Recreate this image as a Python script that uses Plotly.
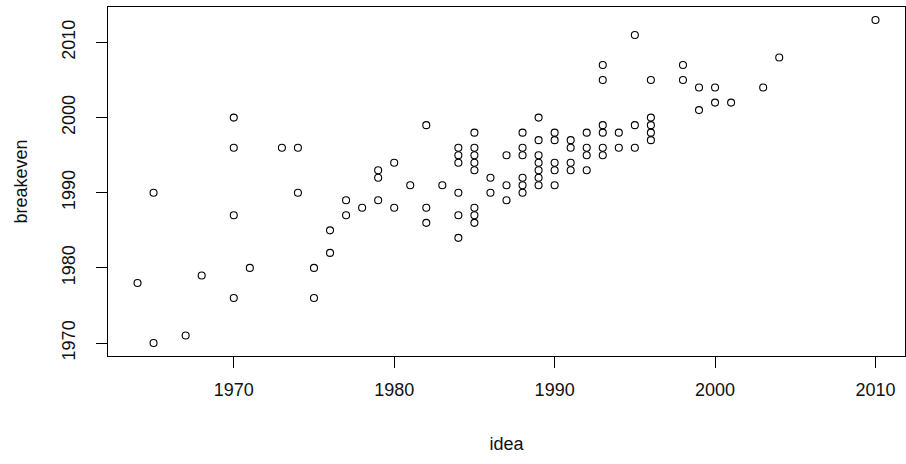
import plotly.graph_objects as go

# Year each idea appeared, paired with the year it broke even
idea = [
    1964,
    1965, 1965,
    1967,
    1968,
    1970, 1970, 1970, 1970,
    1971,
    1973,
    1974, 1974,
    1975, 1975,
    1976, 1976,
    1977, 1977,
    1978,
    1979, 1979, 1979,
    1980, 1980,
    1981,
    1982, 1982, 1982,
    1983,
    1984, 1984, 1984, 1984, 1984, 1984,
    1985, 1985, 1985, 1985, 1985, 1985, 1985, 1985,
    1986, 1986,
    1987, 1987, 1987,
    1988, 1988, 1988, 1988, 1988, 1988,
    1989, 1989, 1989, 1989, 1989, 1989, 1989,
    1990, 1990, 1990, 1990, 1990,
    1991, 1991, 1991, 1991,
    1992, 1992, 1992, 1992,
    1993, 1993, 1993, 1993, 1993, 1993,
    1994, 1994,
    1995, 1995, 1995,
    1996, 1996, 1996, 1996, 1996,
    1998, 1998,
    1999, 1999,
    2000, 2000,
    2001,
    2003,
    2004,
    2010,
]
breakeven = [
    1978,
    1990, 1970,
    1971,
    1979,
    2000, 1996, 1987, 1976,
    1980,
    1996,
    1996, 1990,
    1980, 1976,
    1985, 1982,
    1989, 1987,
    1988,
    1993, 1992, 1989,
    1994, 1988,
    1991,
    1999, 1988, 1986,
    1991,
    1996, 1995, 1994, 1990, 1987, 1984,
    1998, 1996, 1995, 1994, 1993, 1988, 1987, 1986,
    1992, 1990,
    1995, 1991, 1989,
    1998, 1996, 1995, 1992, 1991, 1990,
    2000, 1997, 1995, 1994, 1993, 1992, 1991,
    1998, 1997, 1994, 1993, 1991,
    1997, 1996, 1994, 1993,
    1998, 1996, 1995, 1993,
    2007, 2005, 1999, 1998, 1996, 1995,
    1998, 1996,
    2011, 1999, 1996,
    2005, 2000, 1999, 1998, 1997,
    2007, 2005,
    2004, 2001,
    2004, 2002,
    2002,
    2004,
    2008,
    2013,
]

x_ticks = [1970, 1980, 1990, 2000, 2010]
y_ticks = [1970, 1980, 1990, 2000, 2010]


def padded(vals, frac=0.04):
    lo, hi = min(vals), max(vals)
    pad = (hi - lo) * frac
    return [lo - pad, hi + pad]


FONT = "Liberation Sans, Arial, sans-serif"

fig = go.Figure(
    go.Scatter(
        x=idea,
        y=breakeven,
        mode="markers",
        marker=dict(
            symbol="circle-open",
            size=7,
            color="black",
            line=dict(width=1.1, color="black"),
        ),
        hoverinfo="x+y",
    )
)

axis_common = dict(
    showgrid=False,
    zeroline=False,
    showline=True,
    linecolor="black",
    linewidth=1,
    mirror=True,
    ticks="outside",
    ticklen=11,
    tickwidth=1,
    tickcolor="black",
    tickfont=dict(family=FONT, size=18, color="#111"),
)

fig.update_layout(
    width=906,
    height=464,
    margin=dict(l=108, r=1, t=7, b=108),
    paper_bgcolor="white",
    plot_bgcolor="white",
    showlegend=False,
    font=dict(family=FONT, color="#111"),
    xaxis=dict(
        range=padded(idea),
        tickvals=x_ticks,
        ticktext=[str(v) for v in x_ticks],
        title=dict(text="idea", font=dict(family=FONT, size=18, color="#111"), standoff=38),
        ticklabelstandoff=6,
        **axis_common,
    ),
    yaxis=dict(
        range=padded(breakeven),
        tickvals=y_ticks,
        ticktext=[str(v) for v in y_ticks],
        tickangle=-90,
        title=dict(text="breakeven", font=dict(family=FONT, size=18, color="#111"), standoff=26),
        ticklabelstandoff=14,
        **axis_common,
    ),
)

fig.write_html("out.html")
